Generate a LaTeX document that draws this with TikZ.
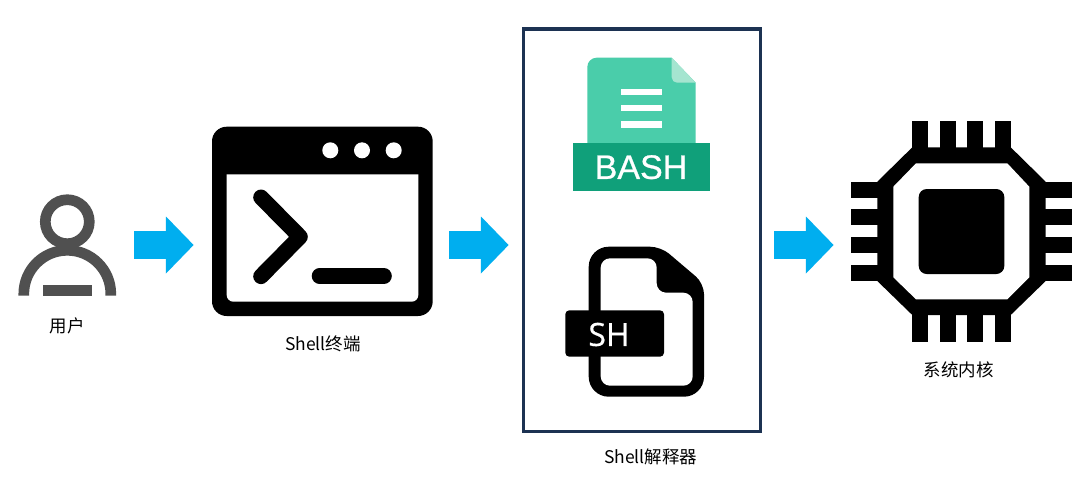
\documentclass[tikz,border=0pt]{standalone}
\usepackage{fontspec}
\usepackage{xcolor}
\usetikzlibrary{arrows.meta}
\setmainfont{Noto Sans CJK SC}
\newfontfamily\bashfont[FakeBold=0.7]{Liberation Sans}
\newfontfamily\shfont[FakeBold=0.5]{Open Sans}
\definecolor{figuser}{RGB}{80,80,80}
\definecolor{figflow}{RGB}{0,174,239}
\definecolor{figframe}{RGB}{28,50,82}
\definecolor{figdoc}{RGB}{74,205,170}
\definecolor{figfold}{RGB}{165,229,208}
\definecolor{figband}{RGB}{16,160,122}
\tikzset{
  lab/.style  ={font=\fontsize{13.1pt}{15pt}\selectfont, text=black, inner sep=1pt},
  tag/.style  ={text=white, inner sep=0pt},
  flow/.style ={draw=figflow, line width=21.2pt, -{Triangle[length=20.8pt,width=41.5pt]}},
  frm/.style  ={draw=figframe, line width=2.4pt},
  ucs/.style  ={draw=figuser, line width=8pt},
  prm/.style  ={draw=black, line width=11.7pt, line cap=round, line join=round},
}

\begin{document}
\begin{tikzpicture}[x=0.75pt,y=-0.75pt]
  \useasboundingbox (0,0) rectangle (1089,487);
  \fill[white] (0,0) rectangle (1089,487);
  \begin{scope}
  \draw[ucs] (67.3,221.7) circle[radius=22];
  \draw[ucs] (23.8,295.7) -- (23.8,293.8) arc[start angle=180,end angle=360,radius=43.5] -- (110.8,295.7);
  \fill[figuser] (43,285) rectangle (92,295.7);
  \node[lab] (userlab) at (67,326) {用户};
  \end{scope}
  \begin{scope}
  \fill[black,rounded corners=11pt] (212,126.7) rectangle (432.7,316);
  \fill[white] (226.7,174.3) -- (418.3,174.3) [rounded corners=5pt] -- (418.3,301.7) -- (226.7,301.7) [sharp corners] -- cycle;
  \fill[white] (330.3,150.3) circle[radius=8];
  \fill[white] (362,150.3) circle[radius=8];
  \fill[white] (393.7,150.3) circle[radius=8];
  \draw[prm] (261,197.3) -- (300,236.8) -- (261,276.3);
  \draw[prm] (319.5,276) -- (384,276);
  \node[lab] (termlab) at (322.8,343.5) {Shell终端};
  \end{scope}
  \begin{scope}
  \draw[frm] (523.6,28.9) rectangle (760.4,431.8);
  \fill[figdoc] (671.7,57.7) [rounded corners=7pt] -- (587.3,57.7) [sharp corners] -- (587.3,143) -- (695.7,143) -- (695.7,82.7) -- cycle;
  \fill[figfold] (671.7,57.7) -- (695.7,82.7) -- (682,82.7) [rounded corners=4pt] -- (671.7,82.7) [sharp corners] -- cycle;
  \fill[white] (621,89) rectangle (662,95);
  \fill[white] (621,105) rectangle (662,111);
  \fill[white] (621,121.3) rectangle (662,127.7);
  \fill[figband] (573,143) rectangle (710,191);
  \node[tag,font=\bashfont\fontsize{25.5pt}{28pt}\selectfont] (bashtag) at (641,167.2) {BASH};
  \fill[black,rounded corners=15pt] (620,246.7) -- (588.7,246.7) -- (588.7,396.7) -- (704,396.7) [rounded corners=8pt] -- (704,283.4) -- (660.8,246.7) [sharp corners] -- cycle;
  \fill[white] [rounded corners=7pt] (656.7,258.3) -- (600.7,258.3) -- (600.7,385.7) -- (692.7,385.7) -- (692.7,292.7) -- (656.7,292.7) -- cycle;
  \fill[black,rounded corners=3pt] (565.3,310.3) rectangle (664,356.7);
  \node[tag,font=\shfont\fontsize{24pt}{28pt}\selectfont] (shtag) at (609,334.5) {SH};
  \node[lab] (shelllab) at (650.5,457) {Shell解释器};
  \end{scope}
  \begin{scope}
  \fill[black] (912.3,121) rectangle (928.3,341.7);
  \fill[black] (940,121) rectangle (955.7,341.7);
  \fill[black] (967.3,121) rectangle (983.3,341.7);
  \fill[black] (994.7,121) rectangle (1010.7,341.7);
  \fill[black] (851,181.7) rectangle (1072,197.7);
  \fill[black] (851,209.3) rectangle (1072,225.3);
  \fill[black] (851,237) rectangle (1072,253.3);
  \fill[black] (851,265) rectangle (1072,281);
  \fill[black] (912.3,147.3) -- (1010.7,147.3) -- (1045.7,181.7) -- (1045.7,281) -- (1010.7,315) -- (912.3,315) -- (877.3,281) -- (877.3,181.7) -- cycle;
  \fill[white] (916,163.3) -- (1007.3,163.3) -- (1029.3,186.7) -- (1029.3,277.3) -- (1007.3,299.3) -- (916,299.3) -- (893.3,277.3) -- (893.3,186.7) -- cycle;
  \fill[black,rounded corners=6pt] (918.7,189) rectangle (1004.3,274);
  \node[lab] (kernlab) at (958.7,370) {系统内核};
  \end{scope}
  \coordinate (usrout) at (134,245);
  \coordinate (termin) at (193.7,245);
  \coordinate (termout) at (449,245);
  \coordinate (shellin) at (508.7,245);
  \coordinate (shellout) at (774,245);
  \coordinate (kernin) at (833.7,245);
  \draw[flow] (usrout) -- (termin);
  \draw[flow] (termout) -- (shellin);
  \draw[flow] (shellout) -- (kernin);
\end{tikzpicture}
\end{document}
